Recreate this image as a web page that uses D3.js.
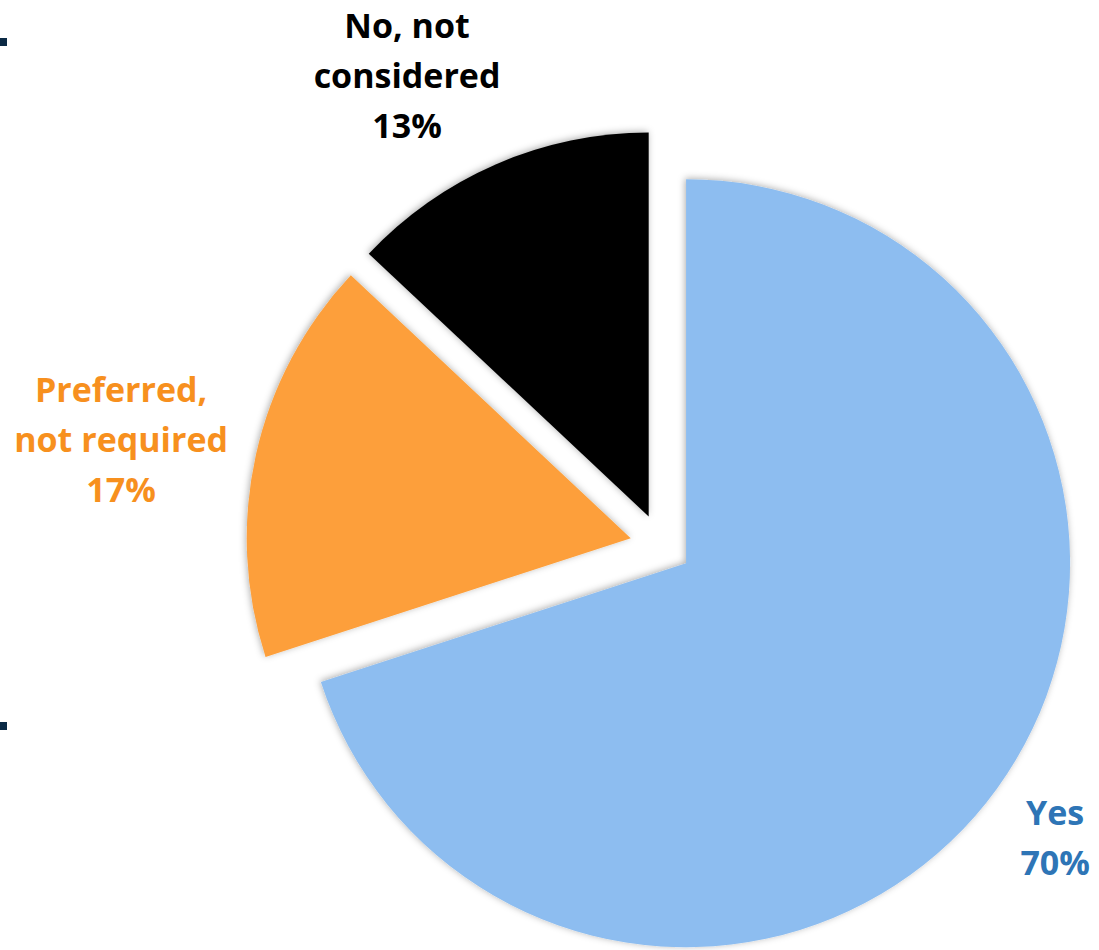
<!DOCTYPE html>
<html>
<head>
<meta charset="utf-8">
<script src="https://cdn.jsdelivr.net/npm/d3@7"></script>
<style>
  html, body { margin: 0; padding: 0; background: #ffffff; }
  svg { display: block; }
  text { font-family: "Open Sans", "Noto Sans", sans-serif; font-weight: 700; }
</style>
</head>
<body>
<svg id="chart" width="1099" height="950"></svg>
<script>
// Survey answers, clockwise from 12 o'clock
const categories = ["Yes", "Preferred, not required", "No, not considered"];
const labelLines = [["Yes"], ["Preferred,", "not required"], ["No, not", "considered"]];
const shares = [70, 17, 13];
const sliceColors = ["#8dbdf0", "#fd9f3a", "#000000"];
const labelColors = ["#2e75b6", "#f7901e", "#000000"];

const W = 1099, H = 950;
const cx = 661, cy = 545, radius = 384, explode = 31;
const fontSize = 34, lineGap = 50;

// label anchor: polar position around the pie centre (angle deg clockwise from top, distance)
const labelPolar = [
  { angle: 126.6, dist: 491 },
  { angle: 281.0, dist: 550 },
  { angle: 331.6, dist: 534 }
];

const svg = d3.select("#chart");

const defs = svg.append("defs");
const glow = defs.append("filter").attr("id", "glow")
  .attr("x", "-10%").attr("y", "-10%").attr("width", "120%").attr("height", "120%");
glow.append("feDropShadow")
  .attr("dx", -1).attr("dy", -1)
  .attr("stdDeviation", 3.5)
  .attr("flood-color", "#000").attr("flood-opacity", 0.32);

// clipped navy fragments along the left edge
svg.append("rect").attr("x", 0).attr("y", 38).attr("width", 7).attr("height", 8).attr("fill", "#0b2a45");
svg.append("rect").attr("x", 0).attr("y", 722).attr("width", 7).attr("height", 8).attr("fill", "#0b2a45");

const pie = d3.pie().sort(null).value(d => d)(shares);
const arc = d3.arc().innerRadius(0).outerRadius(radius);

const g = svg.append("g").attr("transform", `translate(${cx},${cy})`);

g.selectAll("path.slice")
  .data(pie)
  .join("path")
  .attr("class", "slice")
  .attr("d", arc)
  .attr("fill", (d, i) => sliceColors[i])
  .attr("filter", "url(#glow)")
  .attr("transform", d => {
    const a = (d.startAngle + d.endAngle) / 2;
    return `translate(${Math.sin(a) * explode},${-Math.cos(a) * explode})`;
  });

// category labels with percentages
pie.forEach((d, i) => {
  const p = labelPolar[i];
  const a = p.angle * Math.PI / 180;
  const lx = Math.sin(a) * p.dist;
  const ly = -Math.cos(a) * p.dist;
  const lines = labelLines[i].concat([d3.format(".0f")(shares[i]) + "%"]);
  const top = ly - (lines.length - 1) * lineGap / 2 + fontSize * 0.36;
  const t = g.append("text")
    .attr("text-anchor", "middle")
    .attr("fill", labelColors[i])
    .attr("font-size", fontSize);
  lines.forEach((ln, k) => {
    t.append("tspan").attr("x", lx).attr("y", top + k * lineGap).text(ln);
  });
});
</script>
</body>
</html>
